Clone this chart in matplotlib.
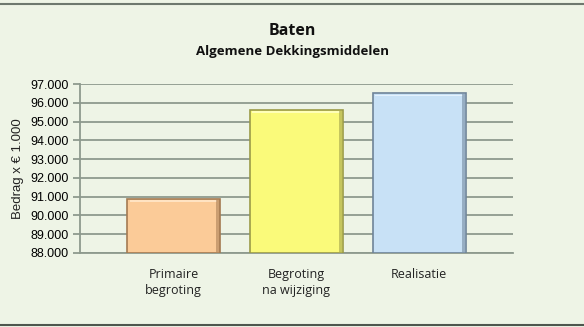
import matplotlib
matplotlib.use("Agg")
import matplotlib.pyplot as plt
from matplotlib.ticker import FuncFormatter, MultipleLocator
import numpy as np

# bedragen x EUR 1.000
categories = ["Primaire\nbegroting", "Begroting\nna wijziging", "Realisatie"]
values = [90850, 95610, 96500]
bar_colors = ["#FBCB98", "#FAFA7A", "#C8E1F6"]
edge_colors = ["#A47A52", "#9A9A48", "#6F8499"]
light_colors = ["#FFE3C2", "#FFFFB8", "#E4F1FC"]

bg = "#EEF4E6"
grid_col = "#8E9A8E"

fig = plt.figure(figsize=(5.84, 3.27), dpi=100, facecolor=bg)
ax = fig.add_axes([0.137, 0.227, 0.741, 0.516])
ax.set_facecolor(bg)

x = np.arange(len(categories))
width = 0.76
ymin, ymax = 88000, 97000
ax.set_ylim(ymin, ymax)
ax.set_xlim(-0.76, 2.76)

# grid lines behind the bars
ax.yaxis.set_major_locator(MultipleLocator(1000))
ax.grid(axis="y", color=grid_col, linewidth=1.3, zorder=0)
ax.set_axisbelow(True)

for xi, v, c, ec, lc in zip(x, values, bar_colors, edge_colors, light_colors):
    ax.bar(xi, v - ymin, bottom=ymin, width=width, color=c,
           edgecolor=ec, linewidth=1.2, zorder=3)
    # bevel: light top band and darker right edge
    ax.bar(xi, 90, bottom=v - 150, width=width * 0.94, color=lc,
           linewidth=0, zorder=4)
    ax.bar(xi + width / 2 - 0.02, v - ymin - 60, bottom=ymin + 30, width=0.03,
           color=ec, alpha=0.55, linewidth=0, zorder=4)

ax.set_xticks(x)
ax.set_xticklabels(categories, fontsize=9, family="Open Sans", color="#222222",
                   linespacing=1.25)
ax.tick_params(axis="x", length=0, pad=11)
ax.tick_params(axis="y", length=5, width=1.3, color=grid_col, labelsize=9, pad=3)
for lbl in ax.get_yticklabels():
    lbl.set_family("Liberation Sans")

ax.yaxis.set_major_formatter(FuncFormatter(lambda v, p: f"{v:,.0f}".replace(",", ".")))

for side in ["top", "right"]:
    ax.spines[side].set_visible(False)
ax.spines["left"].set_color(grid_col)
ax.spines["left"].set_linewidth(1.3)
ax.spines["bottom"].set_color(grid_col)
ax.spines["bottom"].set_linewidth(1.3)

ax.set_ylabel("Bedrag x € 1.000", fontsize=9.5, family="Liberation Sans",
              color="#222222", labelpad=5)

fig.text(0.5, 0.905, "Baten", ha="center", va="center", fontsize=11.5,
         fontweight="bold", family="Open Sans", color="#111111")
fig.text(0.5, 0.843, "Algemene Dekkingsmiddelen", ha="center", va="center",
         fontsize=9.5, fontweight="bold", family="Open Sans", color="#111111")

# outer frame lines
fig.add_artist(plt.Line2D([0, 1], [0.988, 0.988], transform=fig.transFigure,
                          color="#6E786E", linewidth=1.5))
fig.add_artist(plt.Line2D([0, 1], [0.005, 0.005], transform=fig.transFigure,
                          color="#4E564E", linewidth=1.5))

fig.savefig("out.png", dpi=100, facecolor=bg)
